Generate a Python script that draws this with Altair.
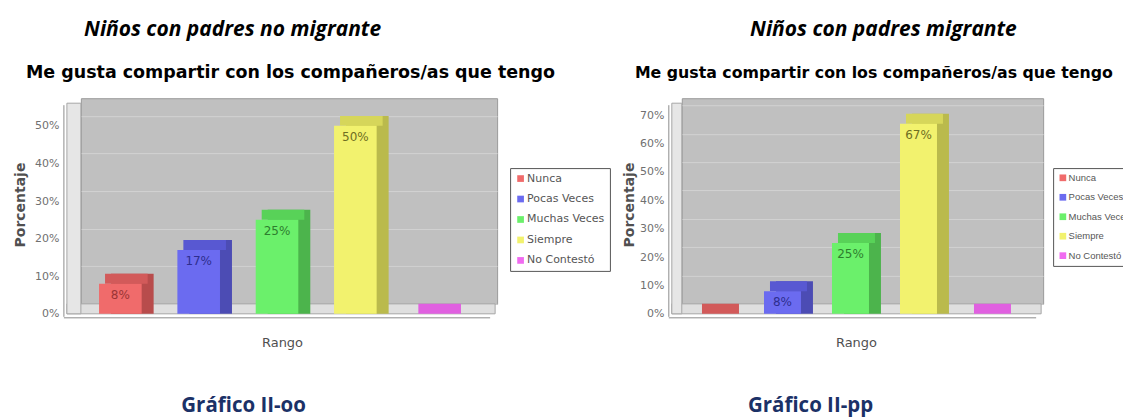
import altair as alt
import pandas as pd

# ---------------- data ----------------
categories = ["Nunca", "Pocas Veces", "Muchas Veces", "Siempre", "No Contestó"]
values_no_migrante = [8, 17, 25, 50, 0]
values_migrante = [0, 8, 25, 67, 0]
ticks_no_migrante = [0, 10, 20, 30, 40, 50]
ticks_migrante = [0, 10, 20, 30, 40, 50, 60, 70]

headers = ["Niños con padres no migrante", "Niños con padres migrante"]
chart_title = "Me gusta compartir con los compañeros/as que tengo"
footers = ["Gráfico II-oo", "Gráfico II-pp"]
y_title = "Porcentaje"
x_title = "Rango"

# ---------------- styles ----------------
front_colors = ["#F06B6B", "#6B6BF0", "#6BF06B", "#F2F26E", "#F06BF0"]
top_colors = ["#D25A5A", "#5858D2", "#58D258", "#D6D65A", "#E060E0"]
side_colors = ["#B84C4C", "#4C4CB4", "#4CB44C", "#BABA4C", "#B84CB8"]
label_colors = ["#9A3535", "#2E2E8E", "#2E7E2E", "#6E6E22", "#8E2E8E"]

H = 206      # wall height
DX = 12      # 3D depth x
DY = 10      # 3D depth y


def panel(values, ticks, ymax, w, gap, header_x, title_x, title_size,
          ytitle_x, xtitle_x, footer_x, legend_x, legend_font, legend_family):
    df = pd.DataFrame({
        "cat": categories,
        "value": values,
        "top": top_colors,
        "side": side_colors,
        "lab": label_colors,
    })
    df["text"] = df["value"].astype(str) + "%"
    one = pd.DataFrame({"k": [0]})

    xenc = alt.X("cat:N", sort=categories, axis=None,
                 scale=alt.Scale(paddingInner=0.456, paddingOuter=0.385))
    yscale = alt.Scale(domain=[0, ymax], nice=False, zero=True)
    yaxis = alt.Axis(values=ticks, tickCount=len(ticks),
                     labelExpr="datum.value + '%'", offset=gap,
                     labelOffset=DY, domain=False, ticks=False, grid=True,
                     gridColor="#d2d2d2", gridWidth=1, labelPadding=5,
                     labelOverlap=False, labelFont="DejaVu Sans", labelFontSize=11,
                     labelColor="#707070", title=None)
    yenc = alt.Y("value:Q", scale=yscale, axis=yaxis)
    base = alt.Chart(df)

    floor = alt.Chart(one).mark_rect(fill="#dfdfdf", stroke="#a6a6a6", strokeWidth=1).encode(
        x=alt.value(-gap + 3), x2=alt.value(w - 2), y=alt.value(H), y2=alt.value(H + DY))
    lwall = alt.Chart(one).mark_rect(fill="#e6e6e6", stroke="#a6a6a6", strokeWidth=1).encode(
        x=alt.value(-gap + 3), x2=alt.value(0), y=alt.value(5), y2=alt.value(H + DY))

    side = base.transform_filter("datum.value > 0").mark_bar(y2Offset=DY).encode(
        x=xenc,
        y=yenc,
        y2=alt.datum(0),
        fill=alt.Fill("side:N", scale=None),
    )
    top = base.mark_bar(xOffset=-DX / 2, y2Offset=DY).encode(
        x=xenc,
        y=yenc,
        y2=alt.Y2("value:Q"),
        fill=alt.Fill("top:N", scale=None),
    )
    front = base.mark_bar(xOffset=-DX, yOffset=DY, y2Offset=DY).encode(
        x=xenc,
        y=yenc,
        y2=alt.datum(0),
        color=alt.Color("cat:N", sort=categories,
                        scale=alt.Scale(domain=categories, range=front_colors),
                        legend=alt.Legend(orient="none", legendX=legend_x, legendY=70,
                                          title=None, fillColor="white",
                                          strokeColor="#555555", padding=5,
                                          symbolType="square", symbolSize=45,
                                          symbolStrokeWidth=0, labelFont=legend_family,
                                          labelFontSize=legend_font, labelColor="#555555",
                                          rowPadding=8.5, labelOffset=1, labelLimit=300)),
    )
    labels = base.transform_filter("datum.value > 0").mark_text(
        xOffset=-DX, yOffset=DY + 11, font="DejaVu Sans", fontSize=12).encode(
        x=xenc, y=yenc, text="text:N",
        fill=alt.Fill("lab:N", scale=None))

    yline = alt.Chart(one).mark_rule(color="#8c8c8c").encode(
        x=alt.value(-gap), y=alt.value(7), y2=alt.value(H + DY + 3))
    xline = alt.Chart(one).mark_rule(color="#8c8c8c").encode(
        x=alt.value(-gap), x2=alt.value(w - 7), y=alt.value(H + DY + 4))

    def txt(s, x, y, **kw):
        return alt.Chart(pd.DataFrame({"t": [s]})).mark_text(**kw).encode(
            text="t:N", x=alt.value(x), y=alt.value(y))

    t_header = txt(header_x[0], header_x[1], -68, font="Open Sans", fontStyle="italic",
                   fontWeight="bold", fontSize=21, align="center", baseline="middle",
                   color="black")
    t_title = txt(chart_title, title_x, -25, font="DejaVu Sans", fontWeight="bold",
                  fontSize=title_size, align="left", baseline="middle", color="black")
    t_y = txt(y_title, ytitle_x, 107, font="DejaVu Sans", fontWeight="bold",
              fontSize=14, angle=270, align="center", baseline="middle", color="#505050")
    t_x = txt(x_title, xtitle_x, 245, font="DejaVu Sans", fontSize=13, align="center",
              baseline="middle", color="#505050")
    t_footer = txt(footer_x[0], footer_x[1], 308, font="Open Sans", fontWeight="bold",
                   fontSize=20.5, align="center", baseline="middle", color="#1B3167")

    return alt.layer(floor, lwall, side, top, front, labels, yline, xline,
                     t_header, t_title, t_y, t_x, t_footer).resolve_scale(
        fill="independent").properties(width=w, height=H)


left = panel(values_no_migrante, ticks_no_migrante, 54.7, 417, 17,
             (headers[0], 152), -55, 17.5, -60, 202, (footers[0], 163), 430, 11, "DejaVu Sans")
right = panel(values_migrante, ticks_migrante, 72.5, 362, 13,
              (headers[1], 202), -47, 15.8, -52, 175, (footers[1], 129), 372, 9.5,
              "Liberation Sans")

chart = alt.hconcat(left, right, spacing=11).resolve_scale(
    color="independent", x="independent", y="independent").resolve_legend(
    color="independent").configure(background="white").configure_view(
    fill="#c0c0c0", stroke="#9a9a9a", strokeWidth=1).properties(
    padding={"left": 5, "top": 10, "right": -14, "bottom": 2})

chart.save("out.html", embed_options={"renderer": "svg", "actions": False})
